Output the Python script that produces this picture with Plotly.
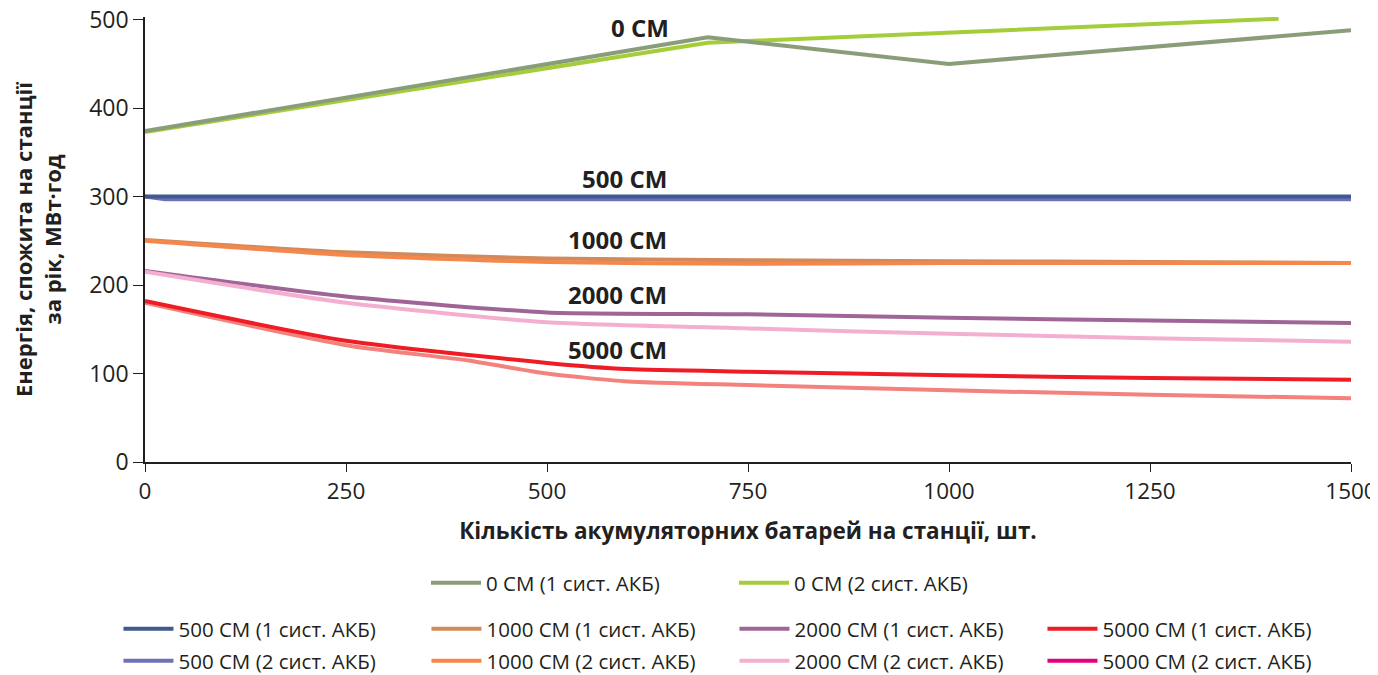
import plotly.graph_objects as go

# ---- data ----
x_0cm_1 = [0, 700, 1000, 1500]
y_0cm_1 = [374, 480, 450, 488]
x_0cm_2 = [0, 700, 1410]
y_0cm_2 = [373, 474, 501]

x_500_1 = [0, 250, 500, 750, 1000, 1250, 1500]
y_500_1 = [300, 300, 300, 300, 300, 300, 300]
x_500_2 = [0, 25, 250, 500, 750, 1000, 1250, 1500]
y_500_2 = [300, 297, 297, 297, 297, 297, 297, 297]

x_1000 = [0, 250, 500, 750, 1000, 1250, 1500]
y_1000_1 = [251, 237, 230, 228, 227, 226, 225]
y_1000_2 = [250, 234, 226, 224, 225, 225, 225]

x_2000 = [0, 250, 500, 750, 1000, 1250, 1500]
y_2000_1 = [216, 187, 169, 167, 163, 160, 157]
y_2000_2 = [215, 180, 158, 151, 145, 140, 136]

x_5000_1 = [0, 250, 500, 600, 750, 1000, 1250, 1500]
y_5000_1 = [182, 137, 112, 105, 102, 98, 95, 93]
x_5000_2 = [0, 250, 400, 500, 600, 750, 1000, 1250, 1500]
y_5000_2 = [180, 132, 115, 100, 91, 87, 81, 76, 72]

x_ticks = [0, 250, 500, 750, 1000, 1250, 1500]
y_ticks = [0, 100, 200, 300, 400, 500]

group_labels = ["0 СМ", "500 СМ", "1000 СМ", "2000 СМ", "5000 СМ"]
label_x = [616, 597, 588, 588, 588]
label_y = [491, 321, 251, 189, 127]

FONT = "Open Sans"
LW = 4

fig = go.Figure()

def add(x, y, name, color, legend, shape="spline", showlegend=True):
    fig.add_trace(go.Scatter(
        x=x, y=y, mode="lines", name=name,
        line=dict(color=color, width=LW, shape=shape, smoothing=0.6),
        legend=legend, showlegend=showlegend))

add(x_500_2, y_500_2, "500 СМ (2 сист. АКБ)", "#6E70B8", "legend3", shape="linear")
add(x_500_1, y_500_1, "500 СМ (1 сист. АКБ)", "#3F5A8E", "legend2", shape="linear")
add(x_1000, y_1000_1, "1000 СМ (1 сист. АКБ)", "#D08A5C", "legend2")
add(x_1000, y_1000_2, "1000 СМ (2 сист. АКБ)", "#F5874A", "legend3")
add(x_2000, y_2000_1, "2000 СМ (1 сист. АКБ)", "#A06597", "legend2")
add(x_2000, y_2000_2, "2000 СМ (2 сист. АКБ)", "#F4AFD0", "legend3")
add(x_5000_2, y_5000_2, "5000 СМ (2 сист. АКБ)", "#F4827C", "legend3", showlegend=False)
add(x_5000_1, y_5000_1, "5000 СМ (1 сист. АКБ)", "#EE1C25", "legend2")
fig.add_trace(go.Scatter(x=[None], y=[None], mode="lines", name="5000 СМ (2 сист. АКБ)",
                         line=dict(color="#E5007D", width=LW), legend="legend3"))
add(x_0cm_2, y_0cm_2, "0 СМ (2 сист. АКБ)", "#A5CD39", "legend", shape="linear")
add(x_0cm_1, y_0cm_1, "0 СМ (1 сист. АКБ)", "#8A9D79", "legend", shape="linear")

fig.data[-1].legendrank = 1
fig.data[-2].legendrank = 2

for t, lx, ly in zip(group_labels, label_x, label_y):
    fig.add_annotation(x=lx, y=ly, text="<b>" + t + "</b>", showarrow=False,
                       font=dict(family=FONT, size=24, color="#231F20"))

leg_common = dict(orientation="h", entrywidth=243, entrywidthmode="pixels",
                  font=dict(family=FONT, size=20.5, color="#231F20"),
                  bgcolor="rgba(0,0,0,0)", yanchor="middle", xanchor="left",
                  itemwidth=50, tracegroupgap=0)

# page body adds an 8px offset; the figure is sized so its right/bottom reach the window edge
fig.update_layout(
    width=1370, height=667,
    margin=dict(l=137, r=27, t=9, b=213, autoexpand=False),
    plot_bgcolor="white", paper_bgcolor="white",
    font=dict(family=FONT, color="#231F20"),
    xaxis=dict(range=[0, 1500], tickvals=x_ticks, showgrid=False, zeroline=False,
               showline=True, linecolor="#231F20", linewidth=1.5,
               ticks="outside", ticklen=8, tickcolor="#231F20",
               ticklabeloverflow="allow",
               tickfont=dict(size=22.5, family=FONT),
               title=dict(text="<b>Кількість акумуляторних батарей на станції, шт.</b>",
                          font=dict(size=22.5, family=FONT), standoff=18)),
    yaxis=dict(range=[0, 503], tickvals=y_ticks, showgrid=False, zeroline=False,
               showline=True, linecolor="#231F20", linewidth=1.5,
               ticks="outside", ticklen=10, tickcolor="#231F20",
               ticklabeloverflow="allow",
               tickfont=dict(size=23, family=FONT),
               title=dict(text="<b>Енергія, спожита на станції<br>за рік, МВт·год</b>",
                          font=dict(size=22, family=FONT), standoff=24)),
    legend=dict(x=0.233, y=-0.272, **leg_common),
    legend2=dict(x=-0.022, y=-0.375, **leg_common),
    legend3=dict(x=-0.022, y=-0.447, **leg_common),
)

fig.write_html("out.html")
